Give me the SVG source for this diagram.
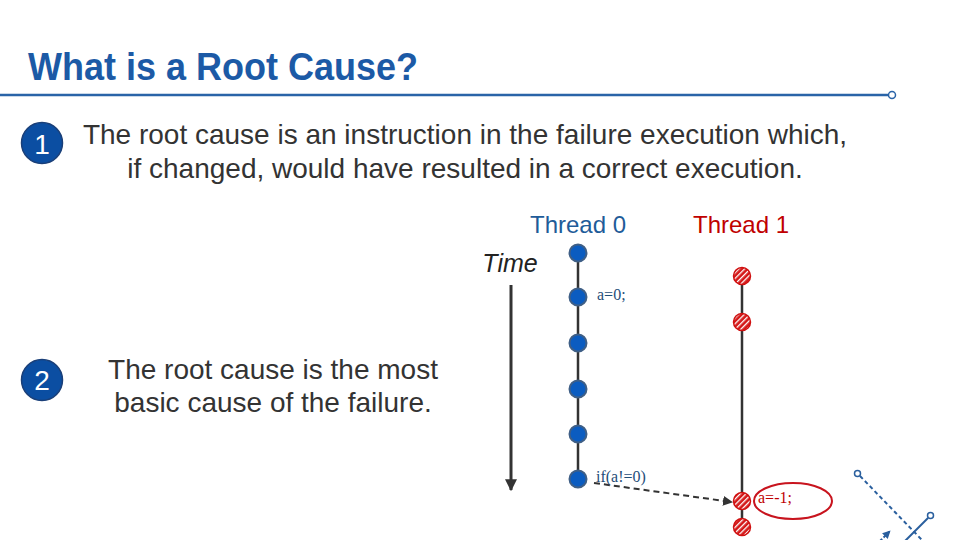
<svg xmlns="http://www.w3.org/2000/svg" width="960" height="540" viewBox="0 0 960 540">
<style>
.body{font-family:"Liberation Sans",Arial,sans-serif;font-size:28px;fill:#333}
.code{font-family:"Liberation Serif","DejaVu Serif",serif;font-size:16px}
.num{font-family:"Liberation Sans",Arial,sans-serif;font-size:28px;fill:#fff}
.b{fill:#0b5cc0;stroke:#3f5f86;stroke-width:2}
.r{fill:url(#hatch);stroke:#d01010;stroke-width:1.5}
.thr{stroke:#333;stroke-width:2.5}
.deco{stroke:#2a5f9e;stroke-width:2;fill:none}
</style>
<defs>
<pattern id="hatch" patternUnits="userSpaceOnUse" width="4" height="4" patternTransform="rotate(45)">
<rect width="4" height="4" fill="#d41818"/>
<rect width="1.3" height="4" fill="#fff"/>
</pattern>
<marker id="ah" viewBox="0 0 10 10" refX="9" refY="5" markerWidth="4" markerHeight="4" orient="auto">
<path d="M0,0 L10,5 L0,10 Z" fill="#333"/>
</marker>
<marker id="ah2" viewBox="0 0 10 10" refX="9" refY="5" markerWidth="5" markerHeight="5" orient="auto">
<path d="M0,0 L10,5 L0,10 Z" fill="#333"/>
</marker>
<marker id="ah3" viewBox="0 0 10 10" refX="9" refY="5" markerWidth="4" markerHeight="4" orient="auto">
<path d="M0,0 L10,5 L0,10 Z" fill="#2a5f9e"/>
</marker>
</defs>
<rect width="960" height="540" fill="#fff"/>
<g id="title">
<text x="28" y="80" font-family="'Liberation Sans',Arial,sans-serif" font-weight="bold" font-size="38" fill="#1c5aa6" textLength="390" lengthAdjust="spacingAndGlyphs">What is a Root Cause?</text>
<line x1="0" y1="95" x2="888" y2="95" stroke="#2a64a8" stroke-width="2.5"/>
<circle cx="892" cy="95" r="3.5" fill="#fff" stroke="#2a64a8" stroke-width="1.5"/>
</g>
<g id="point1">
<circle cx="42" cy="143" r="20.5" fill="#0b4ea2" stroke="#1a3f78" stroke-width="1.5"/>
<text class="num" x="42" y="154" text-anchor="middle">1</text>
<text class="body" x="465" y="144" text-anchor="middle">The root cause is an instruction in the failure execution which,</text>
<text class="body" x="465" y="178" text-anchor="middle">if changed, would have resulted in a correct execution.</text>
</g>
<g id="point2">
<circle cx="42" cy="380" r="20.5" fill="#0b4ea2" stroke="#1a3f78" stroke-width="1.5"/>
<text class="num" x="42" y="390" text-anchor="middle">2</text>
<text class="body" x="273" y="379" text-anchor="middle">The root cause is the most</text>
<text class="body" x="273" y="412" text-anchor="middle">basic cause of the failure.</text>
</g>
<g id="labels">
<text x="578" y="233" text-anchor="middle" font-family="'Liberation Sans',Arial,sans-serif" font-size="24" fill="#1f5c99">Thread 0</text>
<text x="741" y="233" text-anchor="middle" font-family="'Liberation Sans',Arial,sans-serif" font-size="24" fill="#c00000">Thread 1</text>
<text x="510" y="272" text-anchor="middle" font-family="'Liberation Sans',Arial,sans-serif" font-size="25" font-style="italic" fill="#222">Time</text>
</g>
<g id="connectors">
<line x1="511" y1="285" x2="511" y2="490" stroke="#333" stroke-width="3" marker-end="url(#ah)"/>
<line class="thr" x1="578" y1="253" x2="578" y2="479"/>
<line class="thr" x1="742" y1="276" x2="742" y2="526"/>
<line x1="594" y1="483" x2="732" y2="502" stroke="#333" stroke-width="2" stroke-dasharray="6,4" marker-end="url(#ah2)"/>
</g>
<g id="thread0">
<circle class="b" cx="578" cy="253" r="8.5"/>
<circle class="b" cx="578" cy="297" r="8.5"/>
<circle class="b" cx="578" cy="343" r="8.5"/>
<circle class="b" cx="578" cy="389" r="8.5"/>
<circle class="b" cx="578" cy="434" r="8.5"/>
<circle class="b" cx="578" cy="479" r="8.5"/>
<text class="code" x="597" y="300" fill="#1f4e79">a=0;</text>
<text class="code" x="596" y="482" fill="#1f4e79">if(a!=0)</text>
</g>
<g id="thread1">
<circle class="r" cx="742" cy="276" r="8.5"/>
<circle class="r" cx="742" cy="322" r="8.5"/>
<circle class="r" cx="742" cy="501" r="8.5"/>
<circle class="r" cx="742" cy="527" r="8.5"/>
<ellipse cx="793" cy="501" rx="39" ry="18" fill="none" stroke="#c8141e" stroke-width="2"/>
<text class="code" x="758" y="503" fill="#c00000">a=-1;</text>
</g>
<g id="decoration">
<line class="deco" x1="860" y1="476" x2="922" y2="540" stroke-dasharray="4,3"/>
<circle cx="857.5" cy="473.5" r="3" fill="#fff" stroke="#2a5f9e" stroke-width="1.5"/>
<line class="deco" x1="928" y1="518" x2="905" y2="541"/>
<circle cx="930.5" cy="515.5" r="3" fill="#fff" stroke="#2a5f9e" stroke-width="1.5"/>
<line class="deco" x1="880" y1="541" x2="890" y2="531" stroke-dasharray="3,2" marker-end="url(#ah3)"/>
</g>
</svg>
